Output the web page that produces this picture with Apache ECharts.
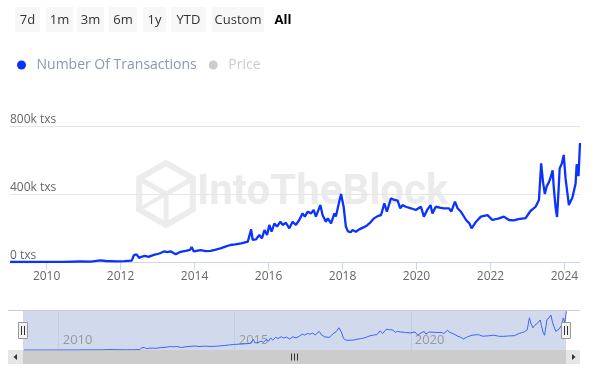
<!DOCTYPE html>
<html><head><meta charset="utf-8">
<script src="https://cdn.jsdelivr.net/npm/echarts@6/dist/echarts.min.js"></script>
<style>html,body{margin:0;padding:0;background:#fff}#c{width:600px;height:386px}</style>
</head><body><div id="c"></div>
<script>
// decimal years
const dates = [2009.01,2009.5,2010.0,2010.5,2010.9,2011.2,2011.45,2011.6,2011.9,2012.1,2012.3,2012.36,2012.43,2012.5,2012.58,2012.66,2012.75,2012.9,2013.05,2013.17,2013.27,2013.35,2013.49,2013.62,2013.76,2013.88,2013.92,2013.98,2014.16,2014.3,2014.43,2014.55,2014.7,2014.85,2014.97,2015.1,2015.26,2015.44,2015.53,2015.57,2015.66,2015.75,2015.82,2015.89,2015.96,2016.02,2016.08,2016.16,2016.23,2016.32,2016.38,2016.47,2016.56,2016.65,2016.74,2016.83,2016.92,2016.98,2017.06,2017.15,2017.22,2017.28,2017.4,2017.46,2017.55,2017.6,2017.69,2017.78,2017.82,2017.89,2017.96,2018.03,2018.09,2018.15,2018.22,2018.27,2018.36,2018.45,2018.5,2018.58,2018.66,2018.75,2018.84,2018.95,2019.04,2019.13,2019.2,2019.31,2019.4,2019.49,2019.56,2019.62,2019.71,2019.85,2019.98,2020.12,2020.2,2020.29,2020.38,2020.43,2020.52,2020.63,2020.74,2020.88,2020.94,2021.04,2021.11,2021.2,2021.34,2021.43,2021.49,2021.61,2021.74,2021.92,2022.05,2022.23,2022.36,2022.5,2022.63,2022.75,2022.85,2022.95,2023.0,2023.08,2023.15,2023.22,2023.31,2023.37,2023.42,2023.47,2023.52,2023.58,2023.63,2023.68,2023.71,2023.76,2023.8,2023.84,2023.87,2023.93,2023.98,2024.03,2024.07,2024.12,2024.17,2024.21,2024.25,2024.3,2024.33,2024.38,2024.42];
const txs = [0,0,200,800,3000,2500,9000,6000,4000,5000,8000,40000,45000,24000,32000,36000,30000,42000,50000,62000,58000,63000,45000,60000,66000,72000,88000,62000,70000,64000,66000,72000,80000,92000,100000,104000,110000,120000,192000,130000,133000,159000,139000,188000,159000,218000,178000,227000,208000,237000,218000,231000,198000,237000,218000,247000,286000,267000,296000,286000,306000,267000,335000,276000,237000,257000,227000,286000,267000,335000,400000,325000,208000,180000,175000,188000,178000,192000,188000,205000,215000,232000,255000,270000,276000,345000,296000,375000,365000,361000,316000,335000,325000,316000,306000,325000,267000,306000,335000,286000,325000,320000,316000,316000,296000,355000,316000,296000,247000,227000,198000,237000,267000,276000,247000,257000,267000,247000,245000,252000,255000,258000,252000,300000,312000,325000,365000,580000,470000,400000,445000,470000,500000,540000,440000,320000,265000,420000,550000,580000,630000,490000,482000,335000,360000,375000,365000,460000,575000,505000,700000];
const yearTicks = [2010,2012,2014,2016,2018,2020,2022,2024];
const navTicks = [2010,2015,2020];
const buttons = ['7d','1m','3m','6m','1y','YTD','Custom'];

const FONT = 'Open Sans';
const pts = dates.map((d,i)=>[d, txs[i]]);

// decorative graphics
const g = [];
const btnX = [[15,40],[46,73],[77,104],[109,137],[143,166],[171,206],[212,264]];
buttons.forEach((b,i)=>{
  const [a,c] = btnX[i];
  g.push({type:'rect', shape:{x:a,y:7,width:c-a,height:25}, style:{fill:'#f7f7f7'}});
  g.push({type:'text', x:(a+c)/2, y:20, style:{text:b, fill:'#333', font:'13px "Open Sans"', align:'center', verticalAlign:'middle'}});
});
g.push({type:'text', x:283, y:20, style:{text:'All', fill:'#000', font:'bold 13px "Open Sans"', align:'center', verticalAlign:'middle'}});
// watermark
const cx=166, cy=194, r=31;
const hex=[]; for(let k=0;k<6;k++){const a=Math.PI/6+k*Math.PI/3; hex.push([cx+r*Math.cos(a), cy+r*Math.sin(a)]);}
g.push({type:'polygon', z:-1, shape:{points:hex}, style:{fill:'none', stroke:'#ececec', lineWidth:6}});
g.push({type:'polyline', z:-1, shape:{points:[[cx-r*0.87,cy-r*0.5],[cx,cy],[cx+r*0.87,cy-r*0.5]]}, style:{fill:'none', stroke:'#ececec', lineWidth:5}});
g.push({type:'polyline', z:-1, shape:{points:[[cx,cy],[cx,cy+r]]}, style:{fill:'none', stroke:'#ececec', lineWidth:5}});
g.push({type:'polyline', z:-1, shape:{points:[[cx-r*0.87,cy+r*0.5],[cx,cy]]}, style:{fill:'none', stroke:'#ececec', lineWidth:4}});
g.push({type:'text', z:-1, x:197, y:193, style:{text:'IntoTheBlock', fill:'#ebebeb', font:'bold 42px Roboto', align:'left', verticalAlign:'middle'}});
// navigator outline + handles + scrollbar
g.push({type:'line', shape:{x1:8,y1:310.5,x2:580,y2:310.5}, style:{stroke:'#cccccc', lineWidth:1}});
[[18.5,27.5],[561.5,570.5]].forEach(([a,c])=>{
  g.push({type:'rect', z:10, shape:{x:a,y:322.5,width:c-a,height:16}, style:{fill:'#f2f2f2', stroke:'#999', lineWidth:1}});
  g.push({type:'line', z:11, shape:{x1:(a+c)/2-1.5,y1:326,x2:(a+c)/2-1.5,y2:335}, style:{stroke:'#333', lineWidth:1}});
  g.push({type:'line', z:11, shape:{x1:(a+c)/2+1.5,y1:326,x2:(a+c)/2+1.5,y2:335}, style:{stroke:'#333', lineWidth:1}});
});
g.push({type:'rect', shape:{x:8,y:350,width:572,height:14}, style:{fill:'#e6e6e6'}});
g.push({type:'rect', shape:{x:23,y:350,width:543,height:14}, style:{fill:'#cccccc'}});
g.push({type:'polygon', shape:{points:[[17,354],[17,360],[13.5,357]]}, style:{fill:'#333'}});
g.push({type:'polygon', shape:{points:[[572,354],[572,360],[575.5,357]]}, style:{fill:'#333'}});
[-3,0,3].forEach(d=>g.push({type:'line', shape:{x1:294.5+d,y1:353.5,x2:294.5+d,y2:360.5}, style:{stroke:'#333', lineWidth:1}}));

const chart = echarts.init(document.getElementById('c'));
chart.setOption({
  animation:false,
  textStyle:{fontFamily:FONT},
  legend:{
    left:12, top:53, icon:'circle', itemWidth:20, itemHeight:9, itemGap:12,
    data:['Number Of Transactions','Price'],
    selected:{'Price':false},
    inactiveColor:'#cccccc',
    textStyle:{fontSize:14, color:'#8a99ae', fontFamily:FONT}
  },
  grid:[
    {left:10, right:20, top:126, height:136},
    {left:23, right:34, top:310, height:40, show:true, backgroundColor:'rgba(102,133,194,0.3)', borderWidth:0}
  ],
  xAxis:[
    {type:'value', gridIndex:0, min:2009.01, max:2024.42,
     axisLine:{lineStyle:{color:'#ccd6eb'}},
     axisTick:{show:true, length:8, lineStyle:{color:'#ccd6eb'}, customValues:yearTicks},
     axisLabel:{customValues:yearTicks, color:'#666', fontSize:12, margin:9, formatter:v=>String(Math.round(v))},
     splitLine:{show:false}},
    {type:'value', gridIndex:1, min:2008.985, max:2024.41,
     axisLine:{show:false},
     axisTick:{show:false, customValues:navTicks},
     axisLabel:{customValues:navTicks, inside:true, align:'left', verticalAlign:'bottom', margin:3, padding:[0,0,0,4], color:'#999', fontSize:13, formatter:v=>String(Math.round(v))},
     splitLine:{show:true, lineStyle:{color:'#c4cde0', width:1}}}
  ],
  yAxis:[
    {type:'value', gridIndex:0, min:0, max:800000, interval:400000,
     axisLine:{show:false}, axisTick:{show:false},
     splitLine:{lineStyle:{color:'#e6e6e6'}},
     axisLabel:{inside:true, margin:0, verticalAlign:'bottom', color:'#666', fontSize:12,
       formatter:v=> v===0 ? '0 txs' : (v/1000)+'k txs'}},
    {type:'value', gridIndex:1, min:0, max:720000, show:false, splitLine:{show:false}}
  ],
  series:[
    {name:'Number Of Transactions', type:'line', xAxisIndex:0, yAxisIndex:0, data:pts, showSymbol:false,
     color:'#0a33ff', lineStyle:{width:2.3, color:'#0a33ff'}, z:3},
    {name:'Price', type:'line', xAxisIndex:0, yAxisIndex:0, data:[], color:'#cccccc'},
    {name:'nav', type:'line', xAxisIndex:1, yAxisIndex:1, data:pts, showSymbol:false, silent:true,
     lineStyle:{width:1, color:'#3f63f5'}, z:3}
  ],
  graphic:g
});
</script></body></html>
